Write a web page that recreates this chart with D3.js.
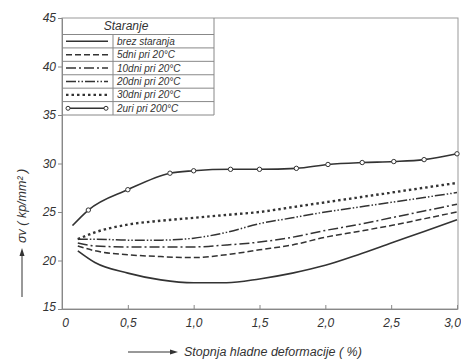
<!DOCTYPE html>
<html>
<head>
<meta charset="utf-8">
<script src="https://cdn.jsdelivr.net/npm/d3@7"></script>
<style>
body { margin: 0; background: #fff; }
text { font-family: "Liberation Sans", Arial, sans-serif; font-style: italic; fill: #333; }
</style>
</head>
<body>
<script>
// deformation (%) values
var xs = [0.12, 0.25, 0.5, 0.75, 1.0, 1.25, 1.5, 1.75, 2.0, 2.25, 2.5, 2.75, 3.0];
var brez   = [21.0, 19.8, 18.7, 18.0, 17.7, 17.7, 18.1, 18.7, 19.5, 20.6, 21.8, 23.0, 24.2];
var dni5   = [21.5, 21.0, 20.6, 20.4, 20.3, 20.6, 21.1, 21.6, 22.4, 23.0, 23.6, 24.3, 25.0];
var dni10  = [21.8, 21.5, 21.4, 21.4, 21.4, 21.6, 21.9, 22.4, 23.1, 23.7, 24.4, 25.1, 25.8];
var dni20  = [22.2, 22.2, 22.1, 22.1, 22.3, 22.9, 23.8, 24.4, 25.0, 25.5, 26.0, 26.5, 27.0];
var dni30  = [22.2, 22.9, 23.7, 24.1, 24.4, 24.7, 25.0, 25.5, 26.0, 26.5, 27.0, 27.5, 28.0];
var uriX   = [0.08, 0.2, 0.5, 0.82, 1.0, 1.28, 1.5, 1.78, 2.02, 2.28, 2.52, 2.75, 3.0];
var uri200 = [23.6, 25.2, 27.3, 29.0, 29.25, 29.4, 29.4, 29.5, 29.9, 30.1, 30.2, 30.4, 31.0];

var legendLabels = ["brez staranja", "5dni pri 20°C", "10dni pri 20°C", "20dni pri 20°C", "30dni pri 20°C", "2uri pri 200°C"];
var xTicks = [0, 0.5, 1.0, 1.5, 2.0, 2.5, 3.0];
var xTickLabels = ["0", "0,5", "1,0", "1,5", "2,0", "2,5", "3,0"];
var yTicks = [15, 20, 25, 30, 35, 40, 45];

var w = 461, h = 361;
var svg = d3.select("body").append("svg").attr("width", w).attr("height", h);

var xScale = d3.scaleLinear().domain([0, 3]).range([62, 457]);
var yScale = d3.scaleLinear().domain([15, 45]).range([309, 18]);

var ink = "#333";

// frame
svg.append("rect")
   .attr("x", 62).attr("y", yScale(45))
   .attr("width", 458 - 62).attr("height", yScale(15) - yScale(45))
   .attr("fill", "none").attr("stroke", "#999").attr("stroke-width", 1);

// axes
var xAxis = d3.axisBottom(xScale).tickValues(xTicks)
              .tickFormat(function(d, i) { return xTickLabels[i]; })
              .tickSize(-4).tickPadding(9);
var gx = svg.append("g").attr("transform", "translate(0," + yScale(15) + ")").call(xAxis);
gx.select(".domain").attr("stroke", "#888");
gx.selectAll(".tick line").attr("stroke", "#888");
gx.selectAll("text").attr("font-size", "12px").attr("font-family", null).attr("fill", ink)
  .attr("dx", function(d, i) { return i === 0 ? 3 : (i === xTicks.length - 1 ? -5 : 0); });

var yAxis = d3.axisLeft(yScale).tickValues(yTicks).tickSize(4).tickPadding(2);
var gy = svg.append("g").attr("transform", "translate(62,0)").call(yAxis);
gy.select(".domain").attr("stroke", "#888");
gy.selectAll(".tick line").attr("stroke", "#888");
gy.selectAll("text").attr("font-size", "12px").attr("font-family", null).attr("fill", ink)
  .attr("dy", function(d) { return d === 15 ? "0.1em" : "0.32em"; });

// series styles
var styles = [
  { dash: null, width: 1.6 },
  { dash: "6,3", width: 1.5 },
  { dash: "10,3,2,3", width: 1.5 },
  { dash: "10,2,1.5,2,1.5,2", width: 1.5 },
  { dash: "2.5,3", width: 2.4 },
  { dash: null, width: 1.6 }
];
var series = [brez, dni5, dni10, dni20, dni30];

var line = d3.line()
  .x(function(d) { return xScale(d[0]); })
  .y(function(d) { return yScale(d[1]); })
  .curve(d3.curveMonotoneX);

series.forEach(function(s, i) {
  svg.append("path")
     .datum(xs.map(function(x, j) { return [x, s[j]]; }))
     .attr("d", line)
     .attr("fill", "none")
     .attr("stroke", ink)
     .attr("stroke-width", styles[i].width)
     .attr("stroke-dasharray", styles[i].dash);
});

var topData = uriX.map(function(x, j) { return [x, uri200[j]]; });
svg.append("path")
   .datum(topData)
   .attr("d", line)
   .attr("fill", "none")
   .attr("stroke", ink)
   .attr("stroke-width", 1.6);

svg.selectAll("circle.mk")
   .data(topData.slice(1))
   .enter()
   .append("circle")
   .attr("class", "mk")
   .attr("cx", function(d) { return xScale(d[0]); })
   .attr("cy", function(d) { return yScale(d[1]); })
   .attr("r", 2.2)
   .attr("fill", "#fff")
   .attr("stroke", ink)
   .attr("stroke-width", 1);

// legend table
var lgTop = yScale(45), lgBottom = yScale(35), lgHead = 34.5;
var lgLeft = 62, lgDiv = 113, lgRight = 214;
var rowH = (lgBottom - lgHead) / legendLabels.length;
var lg = svg.append("g");

lg.append("line").attr("x1", lgRight).attr("x2", lgRight).attr("y1", lgTop).attr("y2", lgBottom)
  .attr("stroke", "#888");
lg.append("line").attr("x1", lgDiv).attr("x2", lgDiv).attr("y1", lgHead).attr("y2", lgBottom)
  .attr("stroke", "#888");
lg.selectAll("line.row")
  .data(d3.range(legendLabels.length + 1))
  .enter()
  .append("line")
  .attr("class", "row")
  .attr("x1", lgLeft).attr("x2", lgRight)
  .attr("y1", function(d) { return lgHead + d * rowH; })
  .attr("y2", function(d) { return lgHead + d * rowH; })
  .attr("stroke", "#888");

lg.append("text")
  .attr("x", 126).attr("y", 30)
  .attr("text-anchor", "middle")
  .attr("font-size", "12px")
  .text("Staranje");

legendLabels.forEach(function(lab, i) {
  var cy = lgHead + (i + 0.5) * rowH;
  lg.append("line")
    .attr("x1", 66).attr("x2", 108)
    .attr("y1", cy).attr("y2", cy)
    .attr("stroke", ink)
    .attr("stroke-width", styles[i].width)
    .attr("stroke-dasharray", styles[i].dash);
  if (i === 5) {
    [68, 106].forEach(function(px) {
      lg.append("circle").attr("cx", px).attr("cy", cy).attr("r", 2)
        .attr("fill", "#fff").attr("stroke", ink);
    });
  }
  lg.append("text")
    .attr("x", 117).attr("y", cy + 3.5)
    .attr("font-size", "10px")
    .text(lab);
});

// x title
var xt = svg.append("g");
xt.append("line").attr("x1", 128).attr("x2", 174).attr("y1", 352).attr("y2", 352)
  .attr("stroke", ink).attr("stroke-width", 1);
xt.append("path").attr("d", "M170,349.5 L178,352 L170,354.5 Z").attr("fill", ink);
xt.append("text").attr("x", 184).attr("y", 356).attr("font-size", "12.5px")
  .text("Stopnja hladne deformacije  ( %)");

// y title
var yt = svg.append("g").attr("transform", "translate(22,0)");
yt.append("line").attr("x1", 0).attr("x2", 0).attr("y1", 297).attr("y2", 252)
  .attr("stroke", ink).attr("stroke-width", 1);
yt.append("path").attr("d", "M-2.5,256 L0,248 L2.5,256 Z").attr("fill", ink);
yt.append("text")
  .attr("transform", "translate(4,243) rotate(-90)")
  .attr("font-size", "12.5px")
  .text("σv  ( kp/mm² )");
</script>
</body>
</html>
